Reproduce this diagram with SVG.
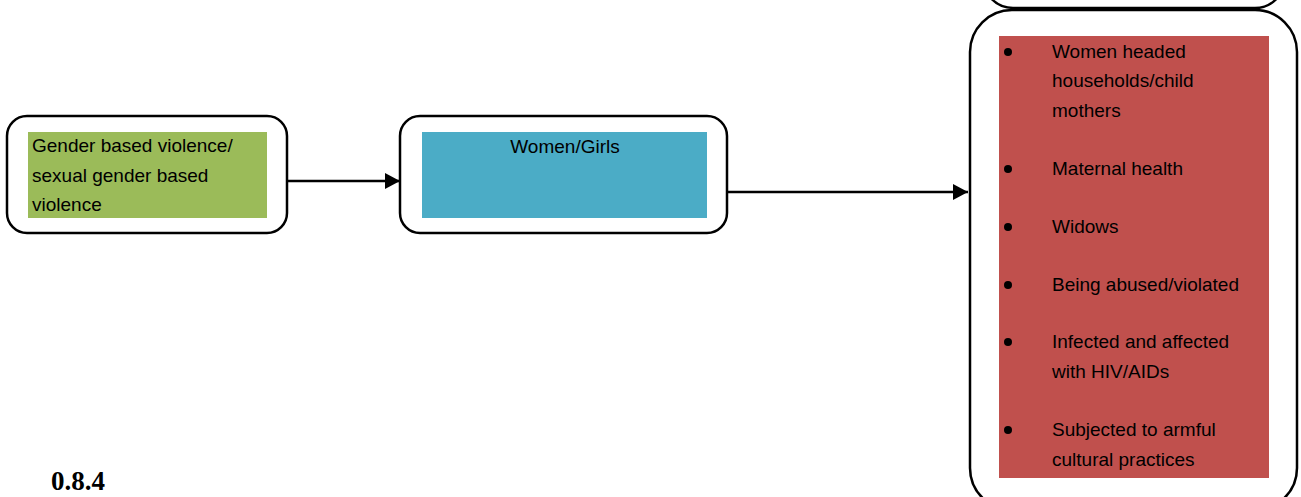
<svg xmlns="http://www.w3.org/2000/svg" width="1301" height="497" viewBox="0 0 1301 497">
<defs>
<style>
.box{fill:#fff;stroke:#000;stroke-width:2.5}
.t{font-family:"Liberation Sans",Arial,sans-serif;font-size:19px;fill:#000}
.conn{stroke:#000;stroke-width:2.5;fill:none}
</style>
<marker id="ah" markerWidth="16" markerHeight="16" refX="15" refY="8" orient="auto" markerUnits="userSpaceOnUse">
<path d="M0,0 L15,8 L0,16 Z" fill="#000"/>
</marker>
</defs>
<rect width="1301" height="497" fill="#fff"/>
<g id="top-partial">
<rect class="box" x="983" y="-60" width="302" height="68" rx="30"/>
</g>
<g id="node-gbv">
<rect class="box" x="7" y="116" width="280" height="117" rx="20"/>
<rect x="28" y="132" width="239" height="86" fill="#9BBB59"/>
<text class="t" x="32" y="152">Gender based violence/</text>
<text class="t" x="32" y="182">sexual gender based</text>
<text class="t" x="32" y="211">violence</text>
</g>
<g id="node-women">
<rect class="box" x="400" y="116" width="327" height="117" rx="20"/>
<rect x="422" y="132" width="285" height="86" fill="#4BACC6"/>
<text class="t" x="565" y="153" text-anchor="middle">Women/Girls</text>
</g>
<g id="node-issues">
<rect class="box" x="970" y="10" width="327" height="500" rx="42"/>
<rect x="999" y="36" width="270" height="442" fill="#C0504D"/>
<g fill="#000">
<circle cx="1008" cy="52" r="4"/>
<circle cx="1008" cy="169" r="4"/>
<circle cx="1008" cy="227" r="4"/>
<circle cx="1008" cy="285" r="4"/>
<circle cx="1008" cy="342" r="4"/>
<circle cx="1008" cy="430" r="4"/>
</g>
<text class="t" x="1052" y="58">Women headed</text>
<text class="t" x="1052" y="87">households/child</text>
<text class="t" x="1052" y="117">mothers</text>
<text class="t" x="1052" y="175">Maternal health</text>
<text class="t" x="1052" y="233">Widows</text>
<text class="t" x="1052" y="291">Being abused/violated</text>
<text class="t" x="1052" y="348">Infected and affected</text>
<text class="t" x="1052" y="378">with HIV/AIDs</text>
<text class="t" x="1052" y="436">Subjected to armful</text>
<text class="t" x="1052" y="466">cultural practices</text>
</g>
<g id="connectors">
<line class="conn" x1="287" y1="181" x2="400" y2="181" marker-end="url(#ah)"/>
<line class="conn" x1="727" y1="192" x2="968" y2="192" marker-end="url(#ah)"/>
</g>
<text x="51" y="490" font-family="Liberation Serif,'Times New Roman',serif" font-weight="bold" font-size="27">0.8.4</text>
</svg>
